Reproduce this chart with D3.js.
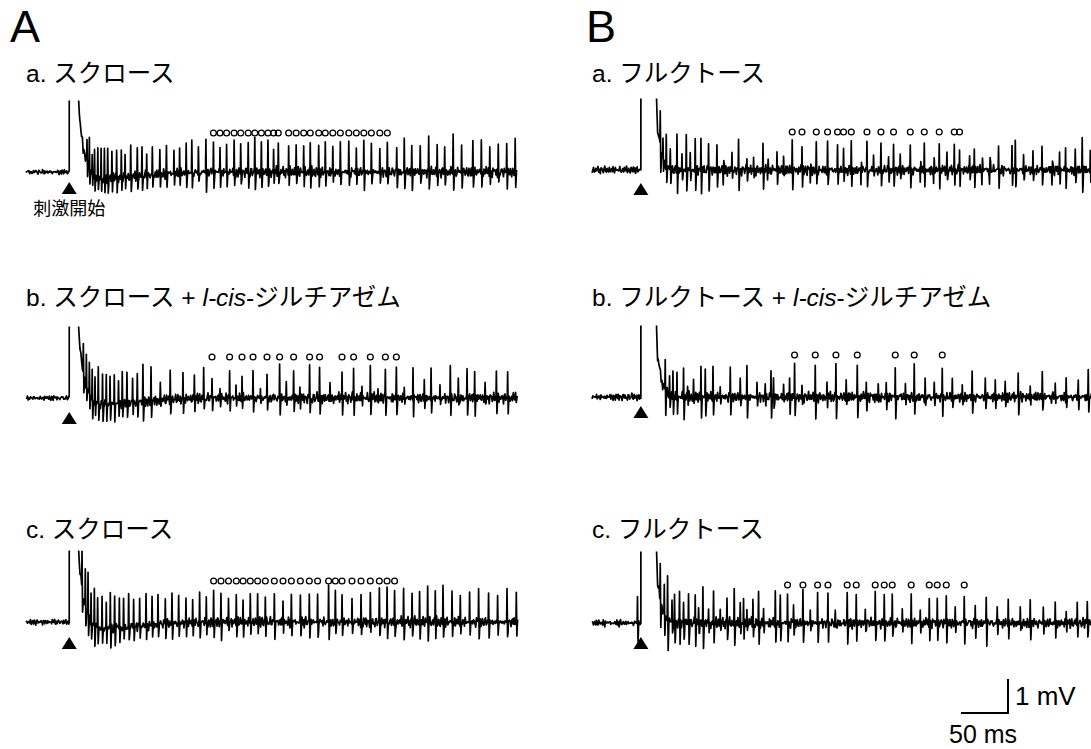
<!DOCTYPE html>
<html>
<head>
<meta charset="utf-8">
<script src="https://cdn.jsdelivr.net/npm/d3@7"></script>
<style>
  body { margin: 0; background: #fff; }
  svg { font-family: 'Liberation Sans', Arial, 'Noto Sans CJK JP', sans-serif; }
  .trace { fill: none; stroke: #000; stroke-width: 1.7; stroke-linejoin: round; }
  .unit-mark { fill: none; stroke: #000; stroke-width: 1.3; }
</style>
</head>
<body>
<svg id="fig" width="1091" height="749"></svg>
<script>
//////////////////////////////////////////////////////////////////////////////////////////
// Data : time in ms from stimulus onset, voltage in mV
// spike = [time, amplitude, marked with a circle]
//////////////////////////////////////////////////////////////////////////////////////////

var panel_names = ['A', 'B']
var row_names = ['a', 'b', 'c']

var labels_A = [['a. スクロース'], ['b. スクロース + ', 'l-cis', '-ジルチアゼム'], ['c. スクロース']]
var labels_B = [['a. フルクトース'], ['b. フルクトース + ', 'l-cis', '-ジルチアゼム'], ['c. フルクトース']]
var stim_label = '刺激開始'

var scale_bar_ms = 50
var scale_bar_mv = 1
var scale_bar_labels = ['50 ms', '1 mV']

// stimulus artefact envelope [time, mV]
var artifact_A = [[0, 0], [0.001, 3.5], [9.9, 3.5], [10, 2.1], [11.4, 1.45], [13.2, 1.1], [15, 0.65],
  [18, 0.4], [21, 0.15], [25, -0.1], [35, -0.2], [60, -0.15], [100, -0.05], [150, 0]]
var artifact_B = [[0, 0], [0.001, 3.5], [16.6, 3.5], [16.7, 2.1], [17.8, 1.1], [19.5, 0.95], [21, 0.6],
  [24, 0.3], [28, 0.1], [35, 0]]

// background noise samples (relative units)
var noise_fine = [0.3, -0.5, 0.8, -0.2, -0.9, 0.4, 0.1, -0.6, 0.7, 0.2, -0.3, 0.9, -0.7, 0.0, 0.5, -0.4,
  -0.8, 0.6, 0.3, -0.1, 0.8, -0.6, 0.2, -0.9, 0.4, 0.7, -0.3, -0.5, 0.1, 0.9, -0.2, -0.7, 0.5, 0.0,
  -0.4, 0.6, -0.8, 0.3, 0.2, -0.6, 0.7, -0.1, -0.9, 0.5, 0.4, -0.3, 0.1]
var noise_coarse = [-0.4, 0.6, 0.2, -0.8, 0.5, -0.1, 0.9, -0.5, -0.2, 0.7, -0.6, 0.3, 0.0, -0.9, 0.4,
  0.8, -0.3, 0.1, -0.7, 0.6, -0.2, 0.5, -0.8, 0.3, 0.9, -0.4, -0.1, 0.2, -0.6]

var spikes_A_a = [[18.5, 0.6], [21, 0.9], [24, 0.7], [26.5, 0.9], [30, 0.8], [33.5, 0.9], [37, 0.8],
  [40.5, 0.9], [45, 0.8], [50, 0.85], [55, 0.8], [59, 0.7], [65, 0.85], [72, 0.7], [77, 0.75], [82, 0.7],
  [88, 0.8], [96, 0.7], [103, 0.8], [111, 0.7], [117, 0.85], [124, 0.8], [130, 0.95], [137, 0.8],
  [145, 0.95], [153, 0.9, 1], [160, 0.8, 1], [167, 0.85, 1], [175, 0.9, 1], [182, 0.8, 1], [190, 0.85, 1],
  [197, 0.9, 1], [204, 0.8, 1], [211, 0.85, 1], [217, 0.7, 1], [222, 0.8, 1], [233, 0.85, 1],
  [241, 0.8, 1], [249, 0.8, 1], [256, 0.9, 1], [265, 0.7, 1], [272, 0.85, 1], [280, 0.8, 1],
  [288, 0.75, 1], [297, 0.85, 1], [305, 0.8, 1], [313, 0.9, 1], [321, 0.8, 1], [330, 0.7, 1],
  [338, 0.8, 1], [348, 0.7], [356, 0.9], [364, 0.8], [373, 0.7], [382, 1.0], [391, 0.8], [399, 0.7],
  [408, 0.95], [417, 0.8], [429, 0.85], [438, 0.95], [447, 0.8], [456, 0.75], [465, 0.85], [474, 0.95]]

var spikes_A_b = [[14.6, 0.9], [17.8, 1.0], [21, 0.9], [24, 1.0], [27, 0.8], [30.5, 1.0], [35, 0.9],
  [39, 0.95], [43, 0.85], [47.5, 0.9], [52, 0.7], [56, 0.9], [61, 0.8], [67, 0.75], [72, 0.8],
  [78, 1.05], [86.6, 0.95], [96.5, 0.45], [107, 0.85], [120.6, 0.8], [132.7, 0.75], [142.6, 0.9],
  [151.5, 0.6, 1], [160, 0.35], [170.2, 0.8, 1], [177, 0.4], [183.4, 0.75, 1], [195.1, 0.8, 1],
  [203, 0.35], [210, 0.7, 1], [223.4, 1.0, 1], [230.5, 0.4], [238.3, 0.8, 1], [245, 0.35],
  [255.3, 1.0, 1], [265.9, 0.85, 1], [277, 0.4], [289.8, 0.85, 1], [302.1, 0.95, 1], [311, 0.45],
  [319.9, 0.9, 1], [328, 0.4], [335.9, 0.9, 1], [347.6, 0.85, 1], [356, 0.35], [365.3, 1.0],
  [377.3, 0.6], [384.5, 0.9], [394, 0.4], [405, 0.9], [413.5, 0.5], [422.8, 0.85], [430.9, 0.9],
  [442, 0.4], [454, 0.8], [466, 0.8], [477, 0.7]]

var spikes_A_c = [[13.2, 1.1], [16.7, 1.0], [19.6, 1.15], [22.8, 0.9], [26.3, 1.1], [29.8, 0.9],
  [34.5, 1.0], [39, 0.85], [43.3, 1.05], [47.9, 0.9], [52.9, 0.95], [57.4, 0.8], [62.8, 0.9],
  [68.1, 0.85], [74.5, 0.8], [81.3, 0.9], [87.7, 0.8], [94, 0.85], [101.8, 0.75], [108.9, 0.85],
  [116, 0.8], [123.8, 0.8], [130.9, 0.75], [138.3, 0.85], [145.4, 0.8], [153.2, 0.9, 1], [161, 0.85, 1],
  [169, 0.75, 1], [177.3, 0.85, 1], [184.5, 0.7, 1], [192.2, 0.85, 1], [200, 0.8, 1], [208.2, 0.75, 1],
  [217.8, 0.85, 1], [227, 0.7, 1], [235.9, 0.8, 1], [245.5, 0.75, 1], [255, 0.85, 1], [263.8, 0.8, 1],
  [275.5, 1.05, 1], [282.7, 0.85, 1], [289.8, 0.8, 1], [300.4, 0.7, 1], [310, 0.85, 1], [319.9, 0.8, 1],
  [329.5, 0.85, 1], [337.7, 1.1, 1], [345.7, 0.85, 1], [355.3, 0.9], [364.3, 0.8], [372.3, 0.85],
  [380.9, 1.05], [389, 0.95], [397.2, 1.05], [406.8, 0.9], [415.6, 0.8], [425.5, 0.85], [435.1, 0.95],
  [445.7, 0.8], [455.3, 0.85], [465.3, 0.9], [475.2, 0.95]]

var spikes_B_a = [[20.2, 1.0], [23.1, 0.6], [26.6, 0.85], [30.9, 0.5], [38, 1.1], [43.3, 0.45],
  [47.9, 1.0], [52.1, 0.5], [57.4, 0.9], [63.5, 1.05], [71.6, 0.8], [80.5, 0.75], [87.2, -0.4],
  [96.5, 0.5], [103.5, 0.95], [112.4, 0.4], [119.5, 0.4], [129.5, 0.85], [134.4, -0.35], [144.4, 0.6],
  [151.4, 0.35], [160.6, 0.85, 1], [171, 0.7, 1], [179.8, -0.4], [186.2, 0.75, 1], [198.2, 0.75, 1],
  [208.8, 0.7, 1], [215.2, 0.6, 1], [223.4, 0.85, 1], [233.7, -0.45], [240.1, 0.8, 1], [247.1, 0.4],
  [255, 0.7, 1], [263.1, 0.4], [268.4, 0.7, 1], [275.5, 0.45], [286.2, 0.75, 1], [296.8, -0.4],
  [301.1, 0.85, 1], [311, -0.45], [317, 0.85, 1], [325.2, 0.4], [333, 0.75, 1], [338.6, 0.7, 1],
  [349.3, 0.4], [354.3, 0.7], [362.4, -0.45], [370.5, -0.4], [380.1, 0.75], [394.4, 0.7], [397.9, 0.75],
  [406.7, 0.4], [416.7, 0.6], [426.3, 0.7], [436.9, -0.4], [445, 0.6], [451.4, 0.75], [461.7, 0.55],
  [469.1, 0.9], [477.7, 0.6]]

var spikes_B_b = [[25.5, 0.94], [30.1, 0.5], [33.7, 0.8], [38, 0.85], [45, 0.94], [49.3, 0.35],
  [55.6, 0.4], [63.5, 0.94], [68.1, 0.8], [76.3, 0.85], [84, 0.3], [94.7, 0.85], [105.3, 0.5],
  [112.4, 0.9], [123.1, 0.45], [131.9, 0.35], [138, 0.8], [140.7, 0.5], [151.4, 0.35], [157.8, 0.7],
  [163.1, 0.95, 1], [171, 0.3], [185.1, 0.95, 1], [197.6, 0.45], [207.1, 0.98, 1], [218, 0.4],
  [229.8, 0.9, 1], [239.4, 0.5], [252.1, 0.35], [260.6, 0.45], [270.2, 0.9, 1], [281, 0.4],
  [290.4, 0.9, 1], [302, 0.45], [311.7, 0.35], [320.2, 0.9, 1], [330.9, 0.5], [341.5, 0.4], [352, 0.7],
  [366, 0.45], [376.6, 0.6], [387.2, 0.4], [401, 0.7], [413.8, 0.4], [426.6, 0.65], [440.4, 0.45],
  [452, 0.6], [464.9, 0.5], [475.5, 0.7]]

var spikes_B_c = [[-4, 0.8], [20.2, 1.1], [24.5, 0.9], [28, 1.3], [32.7, 0.6], [35.4, 0.8], [40.7, 0.9],
  [45, 0.6], [50.3, 0.9], [57.4, 0.9], [61, 0.4], [65.6, 1.05], [71.6, 0.5], [76.9, 0.95], [84, 0.4],
  [91.2, 0.7], [98.9, 0.92], [105.3, 0.5], [108.8, 0.75], [112.4, 0.4], [118.8, 0.7], [124.8, 0.9],
  [130.1, 0.45], [142.6, 0.92], [147.9, 0.75], [155.6, 0.9, 1], [162, 0.5], [172, 0.92, 1], [179.8, 0.4],
  [187.6, 0.88, 1], [198.6, 0.9, 1], [206.4, 0.3], [219.1, 0.85, 1], [228.7, 0.85, 1], [238.3, 0.4],
  [248.9, 0.85, 1], [258.5, 0.8, 1], [267, 0.85, 1], [277.7, 0.45], [287.2, 0.85, 1], [296.8, 0.4],
  [306.4, 0.8, 1], [314.9, 0.85, 1], [324.5, 0.8, 1], [334, 0.45], [343.6, 0.85, 1], [355.3, 0.6],
  [367, 0.8], [378.7, 0.5], [390.4, 0.75], [403.2, 0.45], [413.8, 0.7], [427.7, 0.5], [440.4, 0.75],
  [452.1, 0.4], [463.8, 0.7], [474.5, 0.6]]

var spikes = {
  'A': [spikes_A_a, spikes_A_b, spikes_A_c],
  'B': [spikes_B_a, spikes_B_b, spikes_B_c]
}

//////////////////////////////////////////////////////////////////////////////////////////
// Layout
//////////////////////////////////////////////////////////////////////////////////////////

var fig = {
  'px-per-ms': 0.94,
  'px-per-mv': 34,
  'trace-left': {'A': 26, 'B': 592},
  'domain': {'A': [-46, 477], 'B': [-52, 485]},
  'baseline-y': {'A': [172, 398, 622], 'B': [170, 397, 623]},
  'circle-y': {'A': [133, 357, 581], 'B': [132, 355, 585]},
  'triangle-y': {'A': [182, 412, 637], 'B': [183, 406, 637]},
  'label-x': {'A': 26, 'B': 592},
  'label-y': [82, 306, 538],
  'panel-x': {'A': 10, 'B': 586},
  'panel-y': 42,
  'clip-mv': 2.1,
  'noise-pre': {'A': 0.1, 'B': 0.13},
  'noise-post': {'A': 0.2, 'B': 0.2},
  'dip': {'A': 0.5, 'B': 0.65},
  'step': 0.8
}

var svg = d3.select('#fig')

draw_panel_letters()
draw_traces()
draw_labels()
draw_scale_bar()

//////////////////////////////////////////////////////////////////////////////////////////
// Traces
//////////////////////////////////////////////////////////////////////////////////////////

function x_scale(panel) {
  var dom = fig['domain'][panel]
  var left = fig['trace-left'][panel]
  return d3.scaleLinear()
    .domain(dom)
    .range([left, left + (dom[1] - dom[0]) * fig['px-per-ms']])
}

function noise_value(k, offset) {
  var a = noise_fine[(k + offset) % noise_fine.length]
  var b = noise_coarse[(k + offset * 3) % noise_coarse.length]
  return 0.6 * a + 0.4 * b
}

function trace_points(panel, row) {
  var dom = fig['domain'][panel]
  var artifact = panel == 'A' ? artifact_A : artifact_B
  var list = spikes[panel][row]
  var offset = 7 + row * 11 + (panel == 'B' ? 5 : 0)
  var step = fig['step']

  var art = d3.scaleLinear()
    .domain(artifact.map(function(d) { return d[0] }))
    .range(artifact.map(function(d) { return d[1] }))
    .clamp(true)
  var shape = d3.scaleLinear()
    .domain([0, 0.4, 1.0, 1.8])
    .range([0, 1, -fig['dip'][panel], 0])
    .clamp(true)

  var times = d3.range(dom[0], dom[1], step)
  artifact.forEach(function(d) { times.push(d[0]) })
  list.forEach(function(s) {
    [0, 0.4, 1.0, 1.8].forEach(function(o) { times.push(s[0] + o) })
  })
  times = times.filter(function(t) { return t >= dom[0] && t <= dom[1] }).sort(d3.ascending)

  return times.map(function(t) {
    var g = (t - dom[0]) / step
    var k = Math.floor(g)
    var f = g - k
    var nz = noise_value(k, offset) * (1 - f) + noise_value(k + 1, offset) * f
    var level = t < 12 ? fig['noise-pre'][panel] : fig['noise-post'][panel]
    var v = art(t) + nz * level
    list.forEach(function(s) {
      var dt = t - s[0]
      if (dt > 0 && dt < 1.8) v += s[1] * shape(dt)
    })
    return [t, v]
  })
}

function draw_traces() {
  panel_names.forEach(function(panel) {
    var x = x_scale(panel)
    row_names.forEach(function(row_name, row) {
      var base = fig['baseline-y'][panel][row]
      var y = d3.scaleLinear().domain([0, 1]).range([base, base - fig['px-per-mv']])
      var clip_id = 'clip-' + panel + '-' + row_name

      svg.append('clipPath')
        .attr('id', clip_id)
        .append('rect')
        .attr('x', 0)
        .attr('width', 1091)
        .attr('y', y(fig['clip-mv']))
        .attr('height', 200)

      var g = svg.append('g').attr('id', 'g-trace-' + panel + '-' + row_name)

      g.append('path')
        .attr('class', 'trace')
        .attr('clip-path', 'url(#' + clip_id + ')')
        .attr('d', d3.line()
          .x(function(d) { return x(d[0]) })
          .y(function(d) { return y(d[1]) })(trace_points(panel, row)))

      g.selectAll('.unit-mark')
        .data(spikes[panel][row].filter(function(s) { return s[2] }))
        .enter()
        .append('circle')
        .attr('class', 'unit-mark')
        .attr('cx', function(s) { return x(s[0] + 0.4) })
        .attr('cy', fig['circle-y'][panel][row])
        .attr('r', 2.9)

      // stimulus onset marker
      var sx = x(0)
      var ty = fig['triangle-y'][panel][row]
      g.append('path')
        .attr('d', 'M' + sx + ',' + ty + 'L' + (sx + 7.5) + ',' + (ty + 12) + 'L' + (sx - 7.5) + ',' + (ty + 12) + 'Z')
        .attr('fill', '#000')

      if (panel == 'A' && row == 0) {
        g.append('text')
          .attr('x', sx)
          .attr('y', ty + 33)
          .attr('text-anchor', 'middle')
          .attr('font-size', 18)
          .text(stim_label)
      }
    })
  })
}

//////////////////////////////////////////////////////////////////////////////////////////
// Texts
//////////////////////////////////////////////////////////////////////////////////////////

function draw_panel_letters() {
  svg.selectAll('.panel-letter')
    .data(panel_names)
    .enter()
    .append('text')
    .attr('class', 'panel-letter')
    .attr('x', function(d) { return fig['panel-x'][d] })
    .attr('y', fig['panel-y'])
    .attr('font-size', 45)
    .text(function(d) { return d })
}

function draw_labels() {
  panel_names.forEach(function(panel) {
    var labels = panel == 'A' ? labels_A : labels_B
    labels.forEach(function(parts, row) {
      var t = svg.append('text')
        .attr('x', fig['label-x'][panel])
        .attr('y', fig['label-y'][row])
        .attr('font-size', 24.5)
      parts.forEach(function(p, i) {
        t.append('tspan')
          .attr('font-style', i % 2 == 1 ? 'italic' : 'normal')
          .text(p)
      })
    })
  })
}

//////////////////////////////////////////////////////////////////////////////////////////
// Scale bar
//////////////////////////////////////////////////////////////////////////////////////////

function draw_scale_bar() {
  var corner_x = 1008
  var corner_y = 713
  var w = scale_bar_ms * fig['px-per-ms']
  var h = scale_bar_mv * fig['px-per-mv']

  svg.append('path')
    .attr('d', 'M' + (corner_x - w) + ',' + corner_y + 'H' + corner_x + 'V' + (corner_y - h))
    .attr('fill', 'none')
    .attr('stroke', '#000')
    .attr('stroke-width', 2)

  svg.append('text')
    .attr('x', corner_x - w - 12)
    .attr('y', 743)
    .attr('font-size', 25)
    .text(scale_bar_labels[0])

  svg.append('text')
    .attr('x', corner_x + 7)
    .attr('y', 705)
    .attr('font-size', 26)
    .text(scale_bar_labels[1])
}
</script>
</body>
</html>
